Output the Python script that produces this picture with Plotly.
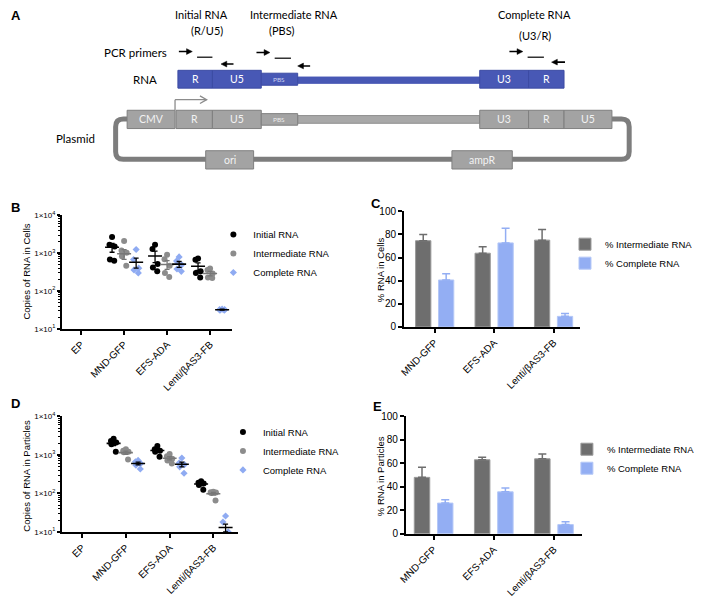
import numpy as np
import plotly.graph_objects as go

# page is 708x607; the html body has an 8px margin, so the figure is drawn 8px in
W, H = 708, 607
OFF = 8
FW, FH = W - 2 * OFF, H - 2 * OFF - 1

# ---------------- data ----------------
scatter_categories = ["EP", "MND-GFP", "EFS-ADA", "Lenti/βAS3-FB"]
bar_categories = ["MND-GFP", "EFS-ADA", "Lenti/βAS3-FB"]
scatter_series = ["Initial RNA", "Intermediate RNA", "Complete RNA"]
bar_series = ["% Intermediate RNA", "% Complete RNA"]

# Panel B: copies of RNA in cells (replicates per category)
cells_initial = [[], [2640, 1660, 1490, 675, 630], [1660, 1290, 515, 415, 330], [720, 665, 330, 300, 225]]
cells_intermediate = [[], [2090, 1170, 1020, 830, 460], [910, 690, 460, 300, 235], [390, 355, 290, 225, 220]]
cells_complete = [[], [1240, 675, 400, 360, 300], [790, 615, 490, 380, 330], [33, 32, 32, 31, 31]]
cells_initial_mean = [None, 1420, 840, 450]
cells_initial_sem = [0, 370, 280, 100]
cells_intermediate_mean = [None, 960, 500, 290]
cells_intermediate_sem = [0, 280, 130, 40]
cells_complete_mean = [None, 570, 510, 32]
cells_complete_sem = [0, 170, 90, 1]

# Panel D: copies of RNA in particles
particles_initial = [[], [2640, 2290, 2100, 1900, 1210], [1700, 1410, 1290, 1210, 900], [208, 190, 180, 165, 124]]
particles_intermediate = [[], [1410, 1290, 1210, 1170, 760], [1060, 930, 790, 720, 600], [110, 108, 105, 103, 66]]
particles_complete = [[], [720, 660, 600, 540, 430], [830, 620, 560, 490, 335], [26, 18, 10]]
particles_initial_mean = [None, 2000, 1300, 175]
particles_initial_sem = [0, 250, 130, 15]
particles_intermediate_mean = [None, 1150, 820, 98]
particles_intermediate_sem = [0, 110, 80, 8]
particles_complete_mean = [None, 600, 570, 13]
particles_complete_sem = [0, 50, 80, 3]

# Panel C: % RNA in cells
cells_pct_intermediate = [74.6, 63.8, 75.1]
cells_pct_intermediate_sem = [5.4, 5.5, 9.2]
cells_pct_complete = [40.6, 72.7, 9.1]
cells_pct_complete_sem = [5.5, 12.7, 2.5]

# Panel E: % RNA in particles
particles_pct_intermediate = [48.1, 63.1, 63.9]
particles_pct_intermediate_sem = [8.7, 2.2, 4.1]
particles_pct_complete = [26.2, 35.8, 7.9]
particles_pct_complete_sem = [2.8, 3.2, 2.5]

# ---------------- style ----------------
FONT = "Liberation Sans, Arial, sans-serif"
DFONT = "Lato, Open Sans, sans-serif"
C_INIT = "#000000"
C_INTER = "#8c8c8c"
C_COMP = "#8fabf2"
C_BAR_INTER = "#6e6e6e"
C_BAR_COMP = "#93aef3"
BLUE = "#4858b5"
GREY_BOX = "#a3a3a3"
SERIES_OFFSET = [-0.28, 0.0, 0.28]
JITTER = [0.0, -0.06, 0.06, -0.05, 0.05]


def px(x):
    return (x - OFF) / FW


def py(y):
    return 1 - (y - OFF) / FH


fig = go.Figure()


def add_scatter_panel(xa, ya, legend, point_sets, means, sems):
    colors = [C_INIT, C_INTER, C_COMP]
    symbols = ["circle", "circle", "diamond"]
    sizes = [6, 6, 5.5]
    mean_colors = ["#000000", "#777777", "#000000"]
    for s, (pts, name) in enumerate(zip(point_sets, scatter_series)):
        xs, ys = [], []
        for ci, vals in enumerate(pts):
            for j, v in enumerate(vals):
                xs.append(ci + SERIES_OFFSET[s] + JITTER[j % len(JITTER)])
                ys.append(v)
        fig.add_trace(go.Scatter(x=xs, y=ys, mode="markers", name=name,
                                 marker=dict(color=colors[s], symbol=symbols[s], size=sizes[s],
                                             line=dict(width=0)),
                                 xaxis=xa, yaxis=ya, legend=legend, showlegend=True))
    for s in range(3):
        xs = [ci + SERIES_OFFSET[s] for ci in range(len(scatter_categories))]
        fig.add_trace(go.Scatter(x=xs, y=means[s], mode="markers",
                                 marker=dict(symbol="line-ew", size=10,
                                             line=dict(width=1.6, color=mean_colors[s])),
                                 error_y=dict(type="data", array=sems[s], visible=True,
                                              color=mean_colors[s], thickness=1.3, width=2.5),
                                 xaxis=xa, yaxis=ya, showlegend=False, hoverinfo="skip"))


def add_bar_panel(xa, ya, legend, inter, inter_sem, comp, comp_sem):
    x = list(range(len(bar_categories)))
    fig.add_trace(go.Bar(x=x, y=inter, name=bar_series[0],
                         marker=dict(color=C_BAR_INTER, line=dict(color="#9a9a9a", width=1)),
                         error_y=dict(type="data", array=inter_sem, arrayminus=[0] * 3, symmetric=False,
                                      color=C_BAR_INTER, thickness=1.5, width=4),
                         xaxis=xa, yaxis=ya, legend=legend))
    fig.add_trace(go.Bar(x=x, y=comp, name=bar_series[1],
                         marker=dict(color=C_BAR_COMP, line=dict(color="#b5c8f7", width=1)),
                         error_y=dict(type="data", array=comp_sem, arrayminus=[0] * 3, symmetric=False,
                                      color=C_BAR_COMP, thickness=1.5, width=4),
                         xaxis=xa, yaxis=ya, legend=legend))


add_scatter_panel("x", "y", "legend",
                  [cells_initial, cells_intermediate, cells_complete],
                  [cells_initial_mean, cells_intermediate_mean, cells_complete_mean],
                  [cells_initial_sem, cells_intermediate_sem, cells_complete_sem])
add_bar_panel("x2", "y2", "legend2", cells_pct_intermediate, cells_pct_intermediate_sem,
              cells_pct_complete, cells_pct_complete_sem)
add_scatter_panel("x3", "y3", "legend3",
                  [particles_initial, particles_intermediate, particles_complete],
                  [particles_initial_mean, particles_intermediate_mean, particles_complete_mean],
                  [particles_initial_sem, particles_intermediate_sem, particles_complete_sem])
add_bar_panel("x4", "y4", "legend4", particles_pct_intermediate, particles_pct_intermediate_sem,
              particles_pct_complete, particles_pct_complete_sem)

axis_common = dict(showline=True, linecolor="black", linewidth=2, ticks="outside", ticklen=4,
                   tickwidth=1.5, tickcolor="black", showgrid=False, zeroline=False,
                   tickfont=dict(size=10, color="black", family=FONT))

minor_vals = [m * 10 ** e for e in range(1, 4) for m in range(2, 10)]
log_axis = dict(axis_common, type="log", range=[1, 4], tickmode="array",
                tickvals=[10, 100, 1000, 10000],
                ticktext=["1×10<sup>1</sup>", "1×10<sup>2</sup>", "1×10<sup>3</sup>", "1×10<sup>4</sup>"],
                tickfont=dict(size=8, color="black", family=FONT), ticklen=3,
                minor=dict(ticks="outside", ticklen=2, tickwidth=1, tickcolor="black",
                           tickmode="array", tickvals=minor_vals))
cat_x = dict(axis_common, tickmode="array", tickvals=list(range(len(scatter_categories))),
             ticktext=scatter_categories, tickangle=-45)
bar_x = dict(axis_common, tickmode="array", tickvals=list(range(len(bar_categories))),
             ticktext=bar_categories, tickangle=-45)
pct_y = dict(axis_common, range=[0, 100], tickmode="array", tickvals=[0, 20, 40, 60, 80, 100])

legend_common = dict(bgcolor="rgba(0,0,0,0)", font=dict(size=9.5, family=FONT, color="black"),
                     xanchor="left", yanchor="top", itemwidth=30, tracegroupgap=0)

fig.update_layout(
    width=FW, height=FH, margin=dict(l=0, r=0, t=0, b=0),
    paper_bgcolor="white", plot_bgcolor="white",
    barmode="group", bargap=0.228, bargroupgap=0.334,
    xaxis=dict(cat_x, domain=[px(56), px(233)], range=[-0.445, 3.5], anchor="y"),
    yaxis=dict(log_axis, domain=[py(335), py(217)], anchor="x"),
    xaxis2=dict(bar_x, domain=[px(413), px(597)], range=[-0.516, 2.45], anchor="y2"),
    yaxis2=dict(pct_y, domain=[py(333), py(213)], anchor="x2"),
    xaxis3=dict(cat_x, domain=[px(56), px(240)], range=[-0.46, 3.57], anchor="y3"),
    yaxis3=dict(log_axis, domain=[py(546), py(426)], anchor="x3"),
    xaxis4=dict(bar_x, domain=[px(415), px(599)], range=[-0.46, 2.47], anchor="y4"),
    yaxis4=dict(pct_y, domain=[py(548), py(426)], anchor="x4"),
    xaxis5=dict(domain=[0, 1], range=[OFF, OFF + FW], visible=False, anchor="y5", fixedrange=True),
    yaxis5=dict(domain=[py(175), 1], range=[175, OFF], visible=False, anchor="x5", fixedrange=True),
    legend=dict(legend_common, x=px(214), y=py(222)),
    legend2=dict(legend_common, x=px(581), y=py(232)),
    legend3=dict(legend_common, x=px(224), y=py(427)),
    legend4=dict(legend_common, x=px(583), y=py(445)),
)

annotations = []
shapes = []


def text(x, y, s, size=10, color="black", family=DFONT, ref="x5", **kw):
    annotations.append(dict(x=x, y=y, text=s, showarrow=False, xref=ref, yref=ref.replace("x", "y"),
                            font=dict(size=size, color=color, family=family), **kw))


def ptext(x, y, s, size=10, bold=False, angle=0):
    annotations.append(dict(x=px(x), y=py(y), text=f"<b>{s}</b>" if bold else s, showarrow=False,
                            xref="paper", yref="paper", textangle=angle,
                            xanchor="center", yanchor="middle",
                            font=dict(size=size, color="black", family=FONT)))


def rect(x0, x1, y0, y1, fill, line, lw=1):
    shapes.append(dict(type="rect", x0=x0, x1=x1, y0=y0, y1=y1, xref="x5", yref="y5",
                       fillcolor=fill, line=dict(color=line, width=lw)))


def box(x0, x1, y0, y1, fill, line, label, size=10.5, color="white"):
    rect(x0, x1, y0, y1, fill, line)
    text((x0 + x1) / 2, (y0 + y1) / 2, label, size=size, color=color)


def arrow(xt, xh, y, color="black"):
    d = 1 if xh > xt else -1
    shapes.append(dict(type="line", x0=xt, x1=xh - d * 4, y0=y, y1=y, xref="x5", yref="y5",
                       line=dict(color=color, width=1.6)))
    shapes.append(dict(type="path", path=f"M {xh - d * 6},{y - 3} L {xh},{y} L {xh - d * 6},{y + 3} Z",
                       xref="x5", yref="y5", fillcolor=color, line=dict(color=color, width=0.5)))


def dash(x0, x1, y):
    shapes.append(dict(type="line", x0=x0, x1=x1, y0=y, y1=y, xref="x5", yref="y5",
                       line=dict(color="#333333", width=1.4)))


# plasmid loop
shapes.append(dict(type="path", xref="x5", yref="y5",
                   path="M 124,117 L 120,117 Q 112,117 112,125 L 112,151 Q 112,159 120,159 "
                        "L 640,159 Q 648,159 648,151 L 648,125 Q 648,117 640,117 L 630,117",
                   line=dict(color="#7d7d7d", width=5)))
# backbone lines
rect(302, 492, 113.5, 121.5, "#a8a8a8", "#8e8e8e")
rect(302, 492, 73.5, 80, BLUE, BLUE)

# RNA boxes
box(177, 213, 66.5, 85, BLUE, "#3c4ba3", "R")
box(213, 264, 66.5, 85, BLUE, "#3c4ba3", "U5")
box(264, 302, 69.5, 82, BLUE, "#3c4ba3", "PBS", size=6.5, color="#c9d0f0")
box(492, 543, 66.5, 85, BLUE, "#3c4ba3", "U3")
box(543, 580, 66.5, 85, BLUE, "#3c4ba3", "R")

# plasmid boxes
GL = "#7f7f7f"
box(124, 174, 108, 127, GREY_BOX, GL, "CMV", color="#f2f2f2")
box(175, 213, 108, 127, GREY_BOX, GL, "R", color="#f2f2f2")
box(213, 264, 108, 127, GREY_BOX, GL, "U5", color="#f2f2f2")
box(264, 302, 111.5, 123.5, GREY_BOX, GL, "PBS", size=6.5, color="#ececec")
box(492, 543, 108, 127, GREY_BOX, GL, "U3", color="#f2f2f2")
box(543, 580, 108, 127, GREY_BOX, GL, "R", color="#f2f2f2")
box(580, 630, 108, 127, GREY_BOX, GL, "U5", color="#f2f2f2")
box(206, 256, 150, 169, GREY_BOX, GL, "ori", color="#f2f2f2")
box(463, 526, 150, 169, GREY_BOX, GL, "ampR", color="#f2f2f2")

# promoter arrow
shapes.append(dict(type="line", x0=174, x1=174, y0=108, y1=97, xref="x5", yref="y5",
                   line=dict(color="#8c8c8c", width=1.3)))
shapes.append(dict(type="line", x0=174, x1=207, y0=97, y1=97, xref="x5", yref="y5",
                   line=dict(color="#8c8c8c", width=1.3)))
shapes.append(dict(type="path", path="M 200,93 L 207,97 L 200,101", xref="x5", yref="y5",
                   line=dict(color="#8c8c8c", width=1.3)))

# primers
arrow(178, 192, 47); dash(197, 213, 53); arrow(235, 222, 60)
arrow(259, 273, 48); dash(278, 295, 54); arrow(315, 302, 62)
arrow(523, 537, 47); dash(542, 559, 53); arrow(581, 567, 58)

# diagram labels
text(202, 8, "Initial RNA", size=11)
text(207, 25, "(R/U5)", size=11)
text(298, 8, "Intermediate RNA", size=11)
text(286, 25, "(PBS)", size=11)
text(549, 8, "Complete RNA", size=11)
text(550, 30, "(U3/R)", size=11)
text(133, 48, "PCR primers", size=11.5)
text(143, 76, "RNA", size=11.5)
text(70, 137, "Plasmid", size=11.5)

# panel letters
ptext(8, 10, "A", size=13, bold=True)
ptext(7, 209, "B", size=13, bold=True)
ptext(384, 205, "C", size=13, bold=True)
ptext(7, 413, "D", size=13, bold=True)
ptext(385, 416, "E", size=13, bold=True)

# axis titles
ptext(18, 276, "Copies of RNA in Cells", size=9.5, angle=-90)
ptext(388, 274, "% RNA in Cells", size=9.5, angle=-90)
ptext(19, 488, "Copies of RNA in Particles", size=9.5, angle=-90)
ptext(388, 488, "% RNA in Particles", size=9.5, angle=-90)

fig.update_layout(annotations=annotations, shapes=shapes)
fig.write_html("out.html")
